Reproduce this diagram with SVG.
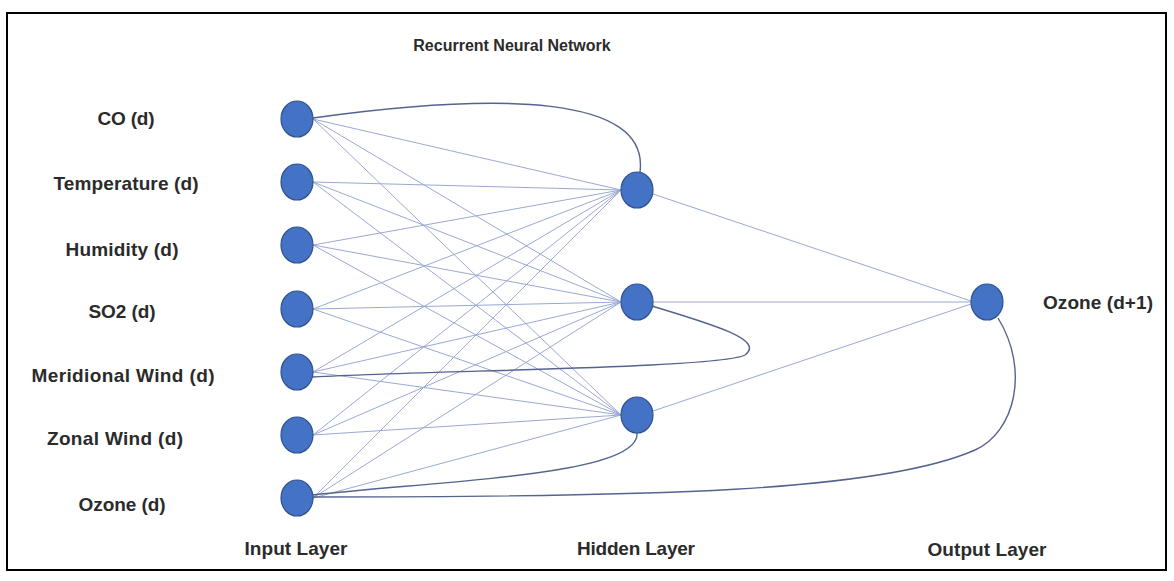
<svg xmlns="http://www.w3.org/2000/svg" width="1174" height="581" viewBox="0 0 1174 581">
<style>
.lbl{font-family:"Liberation Sans",Arial,sans-serif;font-weight:bold;font-size:19px;fill:#2b2b2b;text-anchor:middle}
.ttl{font-family:"Liberation Sans",Arial,sans-serif;font-weight:bold;font-size:16px;fill:#2b2b2b;text-anchor:middle}
.w{stroke:#9aa9d3;stroke-width:1;fill:none}
.r{stroke:#55648f;stroke-width:1.4;fill:none}
.n{fill:#4472c4;stroke:#2f528f;stroke-width:1.2}
</style>
<rect x="7" y="13" width="1159" height="557" fill="#fff" stroke="#000" stroke-width="2"/>
<text class="ttl" x="512" y="51">Recurrent Neural Network</text>
<g id="connectors">
<line class="w" x1="313" y1="119" x2="621" y2="190"/>
<line class="w" x1="313" y1="119" x2="621" y2="302"/>
<line class="w" x1="313" y1="119" x2="621" y2="415"/>
<line class="w" x1="313" y1="182" x2="621" y2="190"/>
<line class="w" x1="313" y1="182" x2="621" y2="302"/>
<line class="w" x1="313" y1="182" x2="621" y2="415"/>
<line class="w" x1="313" y1="245" x2="621" y2="190"/>
<line class="w" x1="313" y1="245" x2="621" y2="302"/>
<line class="w" x1="313" y1="245" x2="621" y2="415"/>
<line class="w" x1="313" y1="309" x2="621" y2="190"/>
<line class="w" x1="313" y1="309" x2="621" y2="302"/>
<line class="w" x1="313" y1="309" x2="621" y2="415"/>
<line class="w" x1="313" y1="372" x2="621" y2="190"/>
<line class="w" x1="313" y1="372" x2="621" y2="302"/>
<line class="w" x1="313" y1="372" x2="621" y2="415"/>
<line class="w" x1="313" y1="435" x2="621" y2="190"/>
<line class="w" x1="313" y1="435" x2="621" y2="302"/>
<line class="w" x1="313" y1="435" x2="621" y2="415"/>
<line class="w" x1="313" y1="498" x2="621" y2="190"/>
<line class="w" x1="313" y1="498" x2="621" y2="302"/>
<line class="w" x1="313" y1="498" x2="621" y2="415"/>
<line class="w" x1="653" y1="194" x2="971" y2="301"/>
<line class="w" x1="653" y1="302" x2="971" y2="302"/>
<line class="w" x1="653" y1="411" x2="971" y2="304"/>
<path class="r" d="M313 118 C500 92 650 95 640 172"/>
<path class="r" d="M652 306 C715 325 765 340 745 355 C720 368 450 370 313 377"/>
<path class="r" d="M313 495 C450 480 640 475 637 433"/>
<path class="r" d="M313 497 C650 497 880 492 975 450 C1015 432 1030 370 998 318"/>
</g>
<g id="input-co"><ellipse class="n" cx="297" cy="119" rx="16" ry="18"/><text class="lbl" x="126" y="125" textLength="57">CO (d)</text></g>
<g id="input-temperature"><ellipse class="n" cx="297" cy="182" rx="16" ry="18"/><text class="lbl" x="126" y="190" textLength="145">Temperature (d)</text></g>
<g id="input-humidity"><ellipse class="n" cx="297" cy="245" rx="16" ry="18"/><text class="lbl" x="122" y="256" textLength="113">Humidity (d)</text></g>
<g id="input-so2"><ellipse class="n" cx="297" cy="309" rx="16" ry="18"/><text class="lbl" x="122" y="318" textLength="67">SO2 (d)</text></g>
<g id="input-meridional"><ellipse class="n" cx="297" cy="372" rx="16" ry="18"/><text class="lbl" x="123" y="382" textLength="183">Meridional Wind (d)</text></g>
<g id="input-zonal"><ellipse class="n" cx="297" cy="435" rx="16" ry="18"/><text class="lbl" x="115" y="445" textLength="136">Zonal Wind (d)</text></g>
<g id="input-ozone"><ellipse class="n" cx="297" cy="498" rx="16" ry="18"/><text class="lbl" x="122" y="511" textLength="87">Ozone (d)</text></g>
<g id="hidden-1"><ellipse class="n" cx="637" cy="190" rx="16" ry="18"/></g>
<g id="hidden-2"><ellipse class="n" cx="637" cy="302" rx="16" ry="18"/></g>
<g id="hidden-3"><ellipse class="n" cx="637" cy="415" rx="16" ry="18"/></g>
<g id="output"><ellipse class="n" cx="987" cy="302" rx="16" ry="18"/><text class="lbl" x="1098" y="309" textLength="110">Ozone (d+1)</text></g>
<g id="layer-labels">
<text class="lbl" x="296" y="555" textLength="103">Input Layer</text>
<text class="lbl" x="636" y="555" textLength="118">Hidden Layer</text>
<text class="lbl" x="987" y="556" textLength="119">Output Layer</text>
</g>
</svg>
